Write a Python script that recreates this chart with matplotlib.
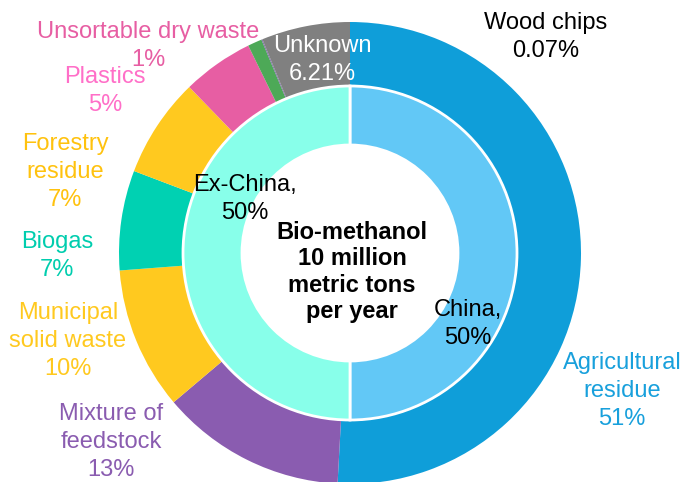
import matplotlib.pyplot as plt

plt.rcParams['font.family'] = ['Liberation Sans', 'DejaVu Sans']

# outer ring: feedstock shares, clockwise from 12 o'clock
feedstocks = ["Agricultural\nresidue", "Mixture of\nfeedstock", "Municipal\nsolid waste",
              "Biogas", "Forestry\nresidue", "Plastics", "Unsortable dry waste",
              "Wood chips", "Unknown"]
shares = [51, 13, 10, 7, 7, 5, 1, 0.07, 6.21]
share_labels = ["51%", "13%", "10%", "7%", "7%", "5%", "1%", "0.07%", "6.21%"]
ring_colors = ["#0F9ED9", "#8A5CB0", "#FFC91F", "#00D1B2", "#FFC91F",
               "#E75EA3", "#4DA957", "#7E6BA6", "#808080"]
text_colors = ["#18A0DC", "#8A5CB0", "#FFC91F", "#00CDAE", "#FFC20E",
               "#FF6FC8", "#E75EA3", "black", "white"]

# inner ring: regions
regions = ["China,", "Ex-China,"]
region_shares = [50, 50]
region_labels = ["50%", "50%"]
region_colors = ["#62C8F6", "#88FFEA"]

fig = plt.figure(figsize=(6.85, 4.82), dpi=100)
ax = fig.add_axes([0, 0, 1, 1])
ax.set_aspect('equal')
ax.axis('off')

R_OUT = 231
R_MID = 167
R_HOLE = 108

ax.pie(shares, colors=ring_colors, radius=R_OUT, startangle=90, counterclock=False,
       normalize=True, wedgeprops=dict(width=R_OUT - R_MID, linewidth=0))
ax.pie(region_shares, colors=region_colors, radius=R_MID, startangle=90, counterclock=False,
       wedgeprops=dict(width=R_MID - R_HOLE, edgecolor='white', linewidth=2))
ax.set_xlim(-350, 335)
ax.set_ylim(-229, 253)

# label positions in pixel offsets from the ring centre (x right, y up)
label_pos = [(272, -138), (-239, -189), (-282, -88), (-293, -3), (-285, 81),
             (-245, 162), (-202, 207), (196, 216), (-28, 193)]
for name, pct, col, (x, y) in zip(feedstocks, share_labels, text_colors, label_pos):
    ax.text(x, y, name + "\n" + pct, color=col, fontsize=17, ha='center', va='center',
            linespacing=1.33)

region_pos = [(118, -71), (-105, 54)]
for name, pct, (x, y) in zip(regions, region_labels, region_pos):
    ax.text(x, y, name + "\n" + pct, color='black', fontsize=17, ha='center', va='center',
            linespacing=1.3)

ax.text(2, -19, "Bio-methanol\n10 million\nmetric tons\nper year", fontsize=17,
        fontweight='bold', ha='center', va='center', linespacing=1.18)

fig.savefig("out.png", dpi=100)
